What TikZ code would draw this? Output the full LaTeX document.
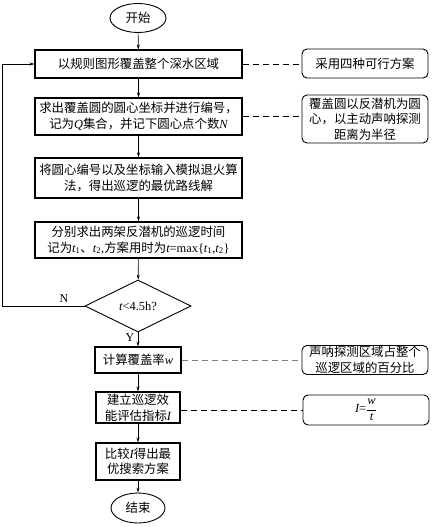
\documentclass[tikz,border=0pt]{standalone}
\usepackage{fontspec}
\setmainfont{Liberation Serif}
\newfontfamily\cjk{Noto Sans CJK SC}
\newcommand\vv[1]{{\rmfamily\itshape #1}}
\newcommand\rmt[1]{{\rmfamily #1}}
\usetikzlibrary{arrows.meta,shapes.geometric}
\begin{document}
\begin{tikzpicture}[x=1pt,y=-1pt,
  font=\cjk\fontsize{12.4}{15.5}\selectfont,
  proc/.style={draw,line width=1.1pt,rectangle,align=center,inner sep=1pt},
  note/.style={draw,line width=0.9pt,rectangle,rounded corners=5pt,align=center,minimum width=126pt,inner sep=1pt},
  term/.style={draw,line width=0.9pt,ellipse,minimum width=56pt,minimum height=29pt,inner sep=0pt},
  arr/.style={-{Stealth[length=5pt,width=3pt]},line width=0.6pt},
  dsh/.style={dashed,dash pattern=on 6pt off 4pt,line width=0.7pt}]
\path[use as bounding box] (0,0) rectangle (433,527);
\node[term] (start) at (138,18) {开始};
\node[proc,minimum width=207pt,minimum height=28pt] (b1) at (138.5,64) {以规则图形覆盖整个深水区域};
\node[proc,minimum width=207pt,minimum height=37pt] (b2) at (138.5,116.5) {求出覆盖圆的圆心坐标并进行编号，\\记为\vv{Q}集合，并记下圆心点个数\vv{N}};
\node[proc,minimum width=207pt,minimum height=40pt] (b3) at (138.5,178) {将圆心编号以及坐标输入模拟退火算\\法，得出巡逻的最优路线解};
\node[proc,minimum width=207pt,minimum height=36pt] (b4) at (138.5,240) {分别求出两架反潜机的巡逻时间\\记为\vv{t}\rmt{\textsubscript{1}}、\vv{t}\rmt{\textsubscript{2},}方案用时为\vv{t}\rmt{=max\{}\vv{t}\rmt{\textsubscript{1},}\vv{t}\rmt{\textsubscript{2}\}}};
\node[draw,line width=0.9pt,diamond,minimum width=106pt,minimum height=52pt,inner sep=0pt,aspect=2] (d) at (138,306) {\vv{t}\rmt{<4.5h?}};
\node[proc,minimum width=86pt,minimum height=26pt] (b5) at (138,360) {计算覆盖率\vv{w}};
\node[proc,minimum width=84pt,minimum height=31pt] (b6) at (138,407.5) {建立巡逻效\\能评估指标\vv{I}};
\node[proc,minimum width=84pt,minimum height=37pt] (b7) at (138,461.5) {比较\vv{I}得出最\\优搜索方案};
\node[term,minimum width=54pt,minimum height=30pt] (end) at (138,508) {结束};

\node[note,minimum height=29pt] (n1) at (365,63.5) {采用四种可行方案};
\node[note,minimum height=48pt] (n2) at (365,119) {覆盖圆以反潜机为圆\\心，以主动声呐探测\\距离为半径};
\node[note,minimum height=29pt] (n5) at (365,360) {声呐探测区域占整个\\巡逻区域的百分比};
\node[note,minimum height=30pt] (n6) at (366,410) {\vv{I}\rmt{=}$\displaystyle\frac{\mbox{\vv{w}}}{\mbox{\vv{t}}}$};

\coordinate (lc) at (2,306);
\draw[arr] (start) -- (b1);
\draw[arr] (b1) -- (b2);
\draw[arr] (b2) -- (b3);
\draw[arr] (b3) -- (b4);
\draw[arr] (b4) -- (d);
\draw[arr] (d) -- node[left,pos=0.35,font=\rmfamily\fontsize{12}{12}\selectfont]{Y} (b5);
\draw[arr] (b5) -- (b6);
\draw[arr] (b6) -- (b7);
\draw[arr] (b7) -- (end);
\draw[arr] (d.west) -- node[above,pos=0.25,font=\rmfamily\fontsize{12}{12}\selectfont]{N} (lc) |- (b1.west);

\draw[dsh] (b1.east) -- (b1.east -| n1.west);
\draw[dsh] (b2.east) -- (b2.east -| n2.west);
\draw[dsh,gray] (b5.east) -- (b5.east -| n5.west);
\draw[dsh] (b6.east |- n6.west) -- (n6.west);
\end{tikzpicture}
\end{document}
